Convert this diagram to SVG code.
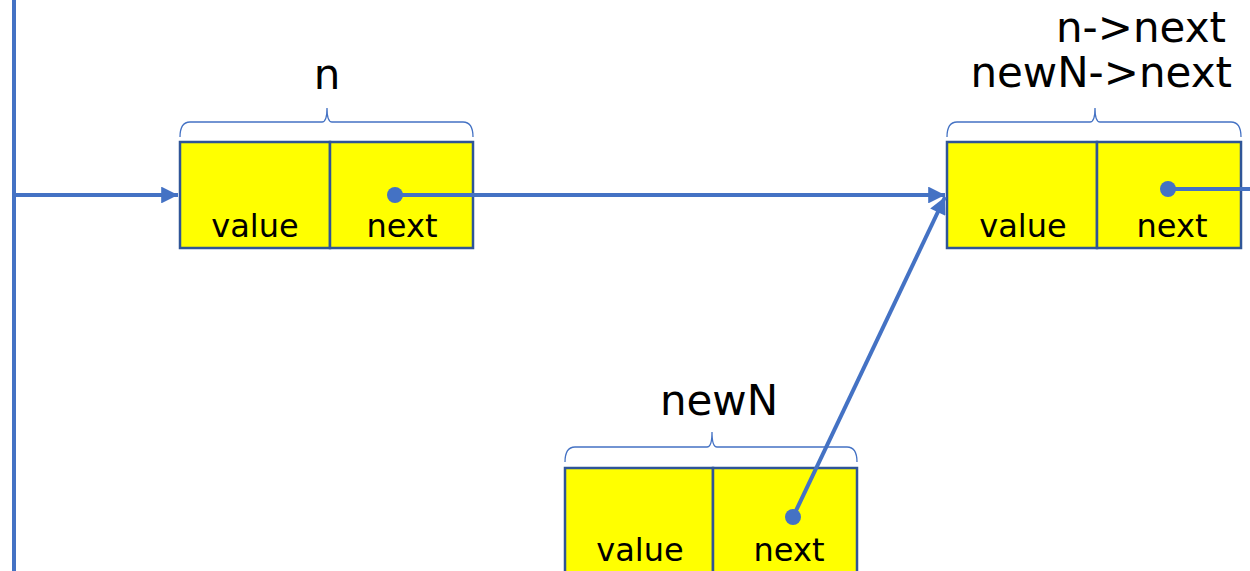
<svg xmlns="http://www.w3.org/2000/svg" width="1250" height="571" viewBox="0 0 1250 571">
  <style>
    .cell { fill: #FFFF00; stroke: #2F5597; stroke-width: 2.5; }
    .brace { fill: none; stroke: #4472C4; stroke-width: 1.3; }
    .field { font-family: "Comic Sans MS", "DejaVu Sans", sans-serif; font-size: 32px; fill: #000; text-anchor: middle; }
    .name { font-family: "Comic Sans MS", "DejaVu Sans", sans-serif; font-size: 42px; fill: #000; }
    .wire { fill: none; stroke: #4472C4; stroke-width: 4; }
    .dot { fill: #4472C4; }
  </style>
  <defs>
    <marker id="head" viewBox="0 0 10 10" refX="10" refY="5" markerWidth="4.5" markerHeight="4.2" markerUnits="strokeWidth" orient="auto">
      <path d="M0,0 L10,5 L0,10 Z" fill="#4472C4"/>
    </marker>
  </defs>

  <rect width="1250" height="571" fill="#FFFFFF"/>

  <!-- node n -->
  <g id="node-n">
    <text class="name" x="327" y="89" text-anchor="middle">n</text>
    <path class="brace" d="M180,137 Q180,122 190,122 L322,122 Q327,122 327,108 Q327,122 332,122 L463,122 Q473,122 473,137"/>
    <rect class="cell" x="180" y="142" width="150" height="106"/>
    <rect class="cell" x="330" y="142" width="143" height="106"/>
    <text class="field" x="255" y="237">value</text>
    <text class="field" x="402" y="237">next</text>
  </g>

  <!-- node after n (n->next / newN->next) -->
  <g id="node-next">
    <text class="name" x="1226" y="42" text-anchor="end">n-&gt;next</text>
    <text class="name" x="1232" y="87" text-anchor="end">newN-&gt;next</text>
    <path class="brace" d="M947,137 Q947,122 957,122 L1090,122 Q1095,122 1095,108 Q1095,122 1100,122 L1231,122 Q1241,122 1241,137"/>
    <rect class="cell" x="947" y="142" width="150" height="106"/>
    <rect class="cell" x="1097" y="142" width="144" height="106"/>
    <text class="field" x="1023" y="237">value</text>
    <text class="field" x="1172" y="237">next</text>
  </g>

  <!-- node newN -->
  <g id="node-newN">
    <text class="name" x="719" y="415" text-anchor="middle">newN</text>
    <path class="brace" d="M565,462 Q565,447 575,447 L707,447 Q712,447 712,432 Q712,447 717,447 L847,447 Q857,447 857,462"/>
    <rect class="cell" x="565" y="468" width="148" height="110"/>
    <rect class="cell" x="713" y="468" width="144" height="110"/>
    <text class="field" x="640" y="561">value</text>
    <text class="field" x="789" y="561">next</text>
  </g>

  <!-- pointers -->
  <g id="connectors">
    <path class="wire" d="M14,0 L14,571"/>
    <path class="wire" d="M14,195 L178,195" marker-end="url(#head)"/>
    <path class="wire" d="M395,195 L945,195" marker-end="url(#head)"/>
    <circle class="dot" cx="395" cy="195" r="8"/>
    <path class="wire" d="M793,517 L945,197" marker-end="url(#head)"/>
    <circle class="dot" cx="793" cy="517" r="8"/>
    <path class="wire" d="M1168,189 L1250,189"/>
    <circle class="dot" cx="1168" cy="189" r="8"/>
  </g>
</svg>
